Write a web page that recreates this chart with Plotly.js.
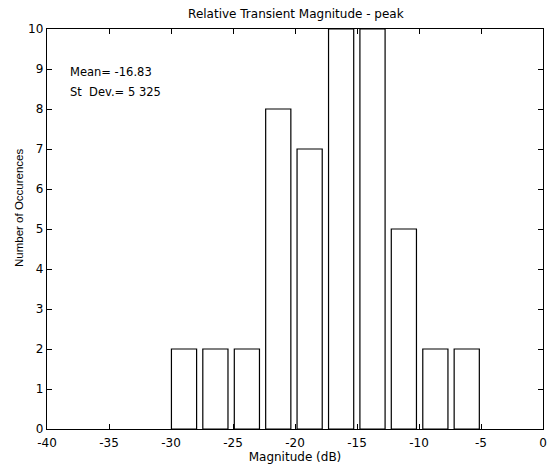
<!DOCTYPE html>
<html>
<head>
<script src="https://cdn.plot.ly/plotly-3.0.1.min.js"></script>
<style>body{margin:0;padding:0;background:#fff}</style>
</head>
<body>
<div id="chart" style="width:551px;height:465px"></div>
<script>
const binCenters = [-28.95, -26.42, -23.88, -21.35, -18.82, -16.28, -13.75, -11.22, -8.68, -6.15];
const counts = [2, 2, 2, 8, 7, 10, 10, 5, 2, 2];
const xTicks = [-40, -35, -30, -25, -20, -15, -10, -5, 0];
const yTicks = [0, 1, 2, 3, 4, 5, 6, 7, 8, 9, 10];
const statLines = ['Mean= -16.83', 'St  Dev.= 5 325'];
const titleText = 'Relative Transient Magnitude - peak';
const xTitle = 'Magnitude (dB)';
const yTitle = 'Number of Occurences';

const wide = 'DejaVu Sans, Verdana, sans-serif';
const narrow = 'Liberation Sans, Arial, sans-serif';
const trace = {
  type: 'bar',
  x: binCenters,
  y: counts,
  width: 2.03,
  marker: {color: '#ffffff', line: {color: '#000000', width: 1.2}},
  hoverinfo: 'x+y'
};
const axisCommon = {
  showline: true, linecolor: '#000', linewidth: 1.2, mirror: 'ticks',
  ticks: 'inside', ticklen: 5, tickcolor: '#000', tickwidth: 1,
  showgrid: false, zeroline: false,
  tickfont: {family: wide, size: 12, color: '#000'}
};
const layout = {
  width: 551, height: 465,
  margin: {l: 47, r: 8, t: 29, b: 36},
  paper_bgcolor: '#fff', plot_bgcolor: '#fff',
  showlegend: false,
  title: {text: titleText, font: {family: wide, size: 12, color: '#000'}, x: 0.537, xanchor: 'center', y: 0.971, yanchor: 'middle'},
  xaxis: Object.assign({}, axisCommon, {
    range: [-40, 0], tickvals: xTicks, ticktext: xTicks.map(String),
    ticklabelstandoff: 2,
    title: {text: xTitle, font: {family: wide, size: 12, color: '#000'}, standoff: 0}
  }),
  yaxis: Object.assign({}, axisCommon, {
    range: [0, 10], tickvals: yTicks, ticktext: yTicks.map(String)
  }),
  annotations: statLines.map((t, i) => ({
    text: t, xref: 'x', yref: 'y', x: -38.3, y: 8.93 - i * 0.5,
    xanchor: 'left', yanchor: 'middle', showarrow: false,
    font: {family: wide, size: 11.5, color: '#000'}
  })).concat([{
    text: yTitle, xref: 'paper', yref: 'paper', x: -0.0565, y: 0.5525,
    xanchor: 'center', yanchor: 'middle', textangle: -90, showarrow: false,
    font: {family: narrow, size: 11.5, color: '#000'}
  }])
};
Plotly.newPlot('chart', [trace], layout, {displayModeBar: false, staticPlot: true});
</script>
</body>
</html>
